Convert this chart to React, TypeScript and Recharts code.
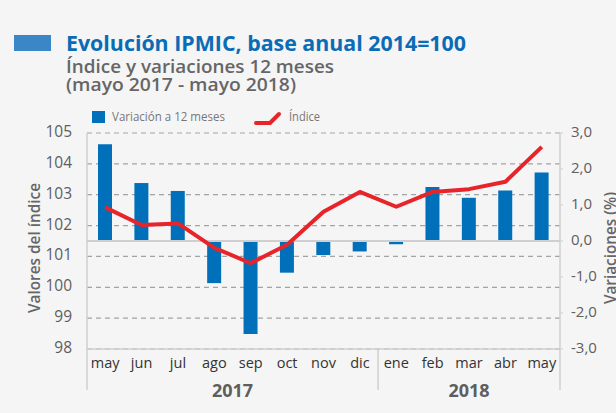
import React from "react"
import { ComposedChart, Bar, Line, XAxis, YAxis, CartesianGrid, ReferenceLine } from "recharts"

const FONT = "'Open Sans', 'DejaVu Sans', sans-serif"

const months = ["may", "jun", "jul", "ago", "sep", "oct", "nov", "dic", "ene", "feb", "mar", "abr", "may"]
const years = ["2017", "2017", "2017", "2017", "2017", "2017", "2017", "2017", "2018", "2018", "2018", "2018", "2018"]
const variacion = [2.69, 1.61, 1.39, -1.17, -2.58, -0.88, -0.39, -0.29, -0.09, 1.5, 1.2, 1.4, 1.9]
const indice = [102.59, 102.02, 102.07, 101.28, 100.78, 101.38, 102.45, 103.09, 102.61, 103.09, 103.18, 103.42, 104.55]
const leftTicks = [98, 99, 100, 101, 102, 103, 104, 105]
const rightTicks = [-3, -2, -1, 0, 1, 2, 3]

const data = months.map((m, i) => ({
  key: `${years[i]}-${m}`,
  month: m,
  year: years[i],
  variacion: variacion[i],
  indice: indice[i],
}))

const C = {
  bg: "#f5f5f5",
  blue: "#0070ba",
  titleBlue: "#0a6cb6",
  titleBar: "#3a86c7",
  red: "#e8242b",
  grid: "#a3a3a3",
  axis: "#cfcfcf",
  tick: "#5e5e5e",
  month: "#333333",
  sub: "#666666",
}

function LeftTick(props: any) {
  const { y, payload } = props
  return (
    <text x={72} y={y - 2} textAnchor="end" dominantBaseline="central" fontFamily={FONT} fontSize={15.5} fill={C.tick}>
      {payload.value}
    </text>
  )
}

function RightTick(props: any) {
  const { y, payload } = props
  return (
    <text x={571} y={y - 2} textAnchor="start" dominantBaseline="central" fontFamily={FONT} fontSize={15} fill={C.tick}>
      {payload.value.toFixed(1).replace(".", ",")}
    </text>
  )
}

function MonthTick(props: any) {
  const { x, y, index, payload } = props
  const half = payload && payload.offset ? payload.offset : 18.2
  const top = y
  const lines: number[] = []
  if (index === 0) lines.push(x - half)
  if (index > 0 && years[index] !== years[index - 1]) lines.push(x - half)
  if (index === months.length - 1) lines.push(x + half)
  let yearLabel: React.ReactNode = null
  // centre of each year group
  const first = years.indexOf(years[index])
  const last = years.lastIndexOf(years[index])
  const mid = (first + last) / 2
  if (index === Math.floor(mid)) {
    const cx = x + (mid - index) * half * 2
    yearLabel = (
      <text x={cx} y={top + 48} textAnchor="middle" fontFamily={FONT} fontSize={18} fontWeight={700} fill={C.tick}>
        {years[index]}
      </text>
    )
  }
  return (
    <g>
      {lines.map((lx, i) => (
        <line key={i} x1={lx} x2={lx} y1={top} y2={top + 41} stroke={C.axis} strokeWidth={1.5} />
      ))}
      <text x={x} y={top + 19} textAnchor="middle" fontFamily={FONT} fontSize={14.5} fill={C.month}>
        {months[index]}
      </text>
      {yearLabel}
    </g>
  )
}

export default function App() {
  return (
    <div style={{ position: "absolute", left: 0, top: 0, width: 616, height: 413, background: C.bg, overflow: "hidden" }}>
      <ComposedChart width={616} height={413} data={data} margin={{ top: 133, right: 0, bottom: 0, left: 0 }}>
        <CartesianGrid yAxisId="left" vertical={false} stroke={C.grid} strokeDasharray="5 4" strokeWidth={1.2} />
        <XAxis
          dataKey="key"
          height={64}
          tick={<MonthTick />}
          tickLine={false}
          tickSize={0}
          tickMargin={0}
          interval={0}
          axisLine={{ stroke: C.axis, strokeWidth: 1.5 }}
        />
        <YAxis
          yAxisId="left"
          domain={[98, 105]}
          ticks={leftTicks}
          width={87}
          tick={<LeftTick />}
          tickLine={false}
          axisLine={{ stroke: C.axis, strokeWidth: 1.5 }}
        />
        <YAxis
          yAxisId="right"
          orientation="right"
          domain={[-3, 3]}
          ticks={rightTicks}
          width={56}
          tick={<RightTick />}
          tickSize={3}
          tickLine={{ stroke: C.axis }}
          axisLine={{ stroke: C.axis, strokeWidth: 1.5 }}
        />
        <ReferenceLine yAxisId="right" y={0} stroke={C.axis} strokeWidth={2} />
        <Bar yAxisId="right" dataKey="variacion" fill={C.blue} barSize={14} isAnimationActive={false} />
        <Line
          yAxisId="left"
          dataKey="indice"
          type="linear"
          stroke={C.red}
          strokeWidth={4}
          dot={false}
          activeDot={false}
          strokeLinejoin="round"
          isAnimationActive={false}
        />
      </ComposedChart>

      {/* header, legend and axis titles */}
      <svg width={616} height={413} style={{ position: "absolute", left: 0, top: 0, pointerEvents: "none" }}>
        <rect x={14} y={35} width={37} height={16} fill={C.titleBar} />
        <text x={66} y={51} fontFamily={FONT} fontSize={22} fontWeight={700} fill={C.titleBlue} textLength={400} lengthAdjust="spacingAndGlyphs">
          Evolución IPMIC, base anual 2014=100
        </text>
        <text x={66} y={73} fontFamily={FONT} fontSize={17.5} fontWeight={600} fill={C.sub} textLength={268} lengthAdjust="spacingAndGlyphs">
          Índice y variaciones 12 meses
        </text>
        <text x={66} y={91} fontFamily={FONT} fontSize={17.5} fontWeight={600} fill={C.sub} textLength={230} lengthAdjust="spacingAndGlyphs">
          (mayo 2017 - mayo 2018)
        </text>

        <rect x={92} y={111} width={13} height={12} fill={C.blue} />
        <text x={112} y={121} fontFamily={FONT} fontSize={12.5} fill="#777" textLength={113} lengthAdjust="spacingAndGlyphs">
          Variación a 12 meses
        </text>
        <polyline points="256,123 270,123 279,114" fill="none" stroke={C.red} strokeWidth={4} strokeLinecap="round" strokeLinejoin="round" />
        <text x={289} y={121} fontFamily={FONT} fontSize={12.5} fill="#777" textLength={31} lengthAdjust="spacingAndGlyphs">
          Índice
        </text>

        <text
          x={0}
          y={0}
          transform="translate(40 248) rotate(-90)"
          textAnchor="middle"
          fontFamily={FONT}
          fontSize={17}
          fontWeight={600}
          fill={C.sub}
          textLength={130}
          lengthAdjust="spacingAndGlyphs"
        >
          Valores del índice
        </text>
        <text
          x={0}
          y={0}
          transform="translate(616 248) rotate(-90)"
          textAnchor="middle"
          fontFamily={FONT}
          fontSize={17}
          fontWeight={600}
          fill={C.sub}
          textLength={112}
          lengthAdjust="spacingAndGlyphs"
        >
          Variaciones (%)
        </text>
      </svg>
    </div>
  )
}
